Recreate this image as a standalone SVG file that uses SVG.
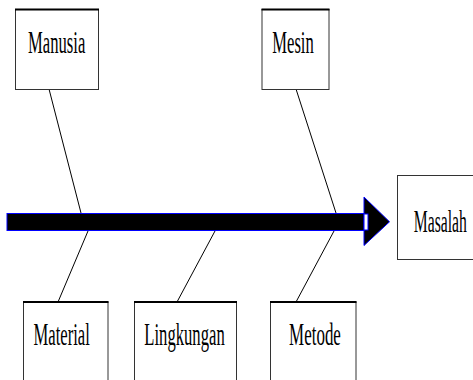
<svg xmlns="http://www.w3.org/2000/svg" width="473" height="380" viewBox="0 0 473 380">
<style>
.box{fill:#fff;stroke:#333;stroke-width:1}
.top{stroke:#000;stroke-width:2}
.lbl{font-family:"Liberation Serif","Times New Roman",serif;font-size:32px;fill:#000;text-anchor:middle}
.bone{stroke:#000;stroke-width:1;fill:none}
</style>
<rect width="473" height="380" fill="#fff"/>
<g id="connectors">
<line class="bone" x1="49" y1="89" x2="81" y2="213"/>
<line class="bone" x1="296" y1="89" x2="336" y2="213"/>
<line class="bone" x1="88" y1="231" x2="58" y2="302"/>
<line class="bone" x1="215" y1="231" x2="177" y2="302"/>
<line class="bone" x1="334" y1="231" x2="296" y2="302"/>
</g>
<g id="spine">
<polygon points="364,197 389.5,221.8 364,245.5" fill="#000" stroke="#00f" stroke-width="1"/>
<rect x="7" y="213.5" width="357" height="17" fill="#000" stroke="#00f" stroke-width="1"/>
<rect x="364" y="214" width="4" height="16" fill="#fff" stroke="#00f" stroke-width="1"/>
</g>
<g id="manusia">
<rect class="box" x="15.5" y="9.5" width="83" height="80"/>
<line class="top" x1="15" y1="9.5" x2="99" y2="9.5"/>
<text class="lbl" transform="translate(56.7,53.3) scale(0.52,1)">Manusia</text>
</g>
<g id="mesin">
<rect class="box" x="262" y="9.5" width="67" height="80"/>
<line class="top" x1="261.5" y1="9.5" x2="329.5" y2="9.5"/>
<text class="lbl" transform="translate(293,53.3) scale(0.52,1)">Mesin</text>
</g>
<g id="masalah">
<rect class="box" x="397.5" y="175.5" width="90" height="84"/>
<text class="lbl" transform="translate(440.3,232) scale(0.49,1)">Masalah</text>
</g>
<g id="material">
<rect class="box" x="23.5" y="302" width="84.5" height="90"/>
<line class="top" x1="23" y1="302" x2="108.5" y2="302"/>
<text class="lbl" transform="translate(61.7,345.3) scale(0.52,1)">Material</text>
</g>
<g id="lingkungan">
<rect class="box" x="134.5" y="302" width="102" height="90"/>
<line class="top" x1="134" y1="302" x2="237" y2="302"/>
<text class="lbl" transform="translate(184.5,345.3) scale(0.52,1)">Lingkungan</text>
</g>
<g id="metode">
<rect class="box" x="270.5" y="302" width="85.5" height="90"/>
<line class="top" x1="270" y1="302" x2="356.5" y2="302"/>
<text class="lbl" transform="translate(315,345.3) scale(0.53,1)">Metode</text>
</g>
</svg>
